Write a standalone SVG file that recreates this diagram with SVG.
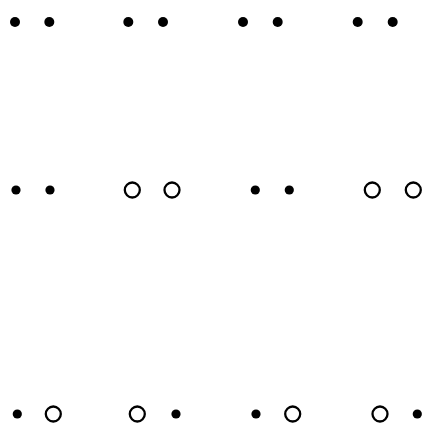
<svg xmlns="http://www.w3.org/2000/svg" width="425" height="426" viewBox="0 0 425 426">
<style>
.d{fill:#000}
.o{fill:none;stroke:#000;stroke-width:2.3}
</style>
<rect width="425" height="426" fill="#fff"/>
<g id="row1">
<circle class="d" cx="15" cy="22" r="5"/>
<circle class="d" cx="49.3" cy="22" r="5"/>
<circle class="d" cx="128.3" cy="22" r="5"/>
<circle class="d" cx="163" cy="22" r="5"/>
<circle class="d" cx="243" cy="22" r="5"/>
<circle class="d" cx="277.7" cy="22" r="5"/>
<circle class="d" cx="357.7" cy="22" r="5"/>
<circle class="d" cx="392.7" cy="22" r="5"/>
</g>
<g id="row2">
<circle class="d" cx="16" cy="190" r="4.6"/>
<circle class="d" cx="50" cy="190" r="4.6"/>
<circle class="o" cx="132.3" cy="190" r="7.5"/>
<circle class="o" cx="172" cy="190" r="7.5"/>
<circle class="d" cx="255.3" cy="190" r="4.6"/>
<circle class="d" cx="289.3" cy="190" r="4.6"/>
<circle class="o" cx="372.3" cy="190" r="7.5"/>
<circle class="o" cx="413.3" cy="190" r="7.5"/>
</g>
<g id="row3">
<circle class="d" cx="17.3" cy="414" r="4.6"/>
<circle class="o" cx="53.3" cy="414" r="7.5"/>
<circle class="o" cx="137.3" cy="414" r="7.5"/>
<circle class="d" cx="176" cy="414" r="4.6"/>
<circle class="d" cx="256" cy="414" r="4.6"/>
<circle class="o" cx="292.7" cy="414" r="7.5"/>
<circle class="o" cx="380" cy="414" r="7.5"/>
<circle class="d" cx="417.3" cy="414" r="4.6"/>
</g>
</svg>
